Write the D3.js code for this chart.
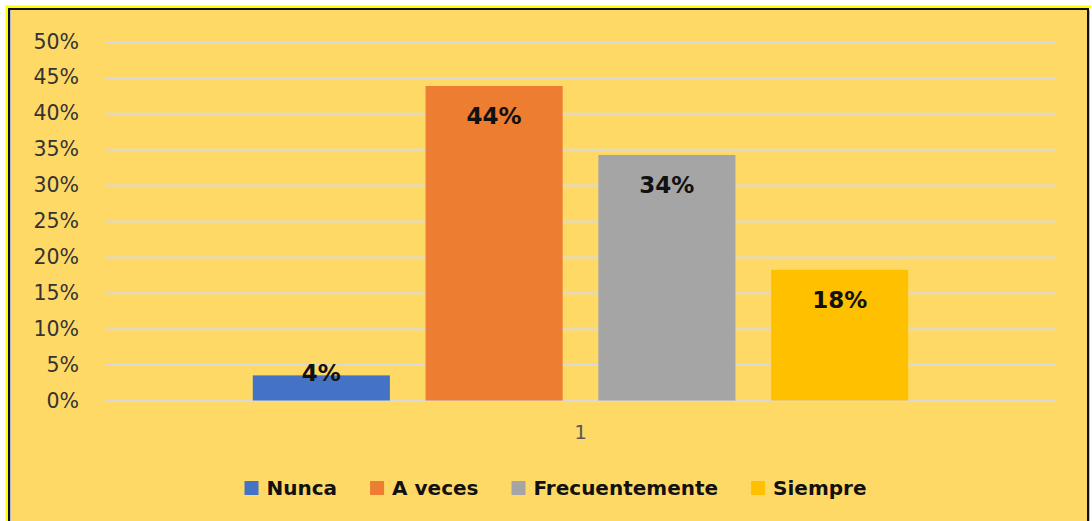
<!DOCTYPE html>
<html><head><meta charset="utf-8">
<script src="https://cdn.jsdelivr.net/npm/d3@7"></script>
<style>body{margin:0;background:#fff}svg{display:block}</style>
</head><body>
<svg id="c" width="1092" height="521"></svg>
<script>
const categories = ["1"];
const seriesNames = ["Nunca", "A veces", "Frecuentemente", "Siempre"];
const seriesValues = [0.035, 0.438, 0.342, 0.182];
const dataLabels = ["4%", "44%", "34%", "18%"];
const seriesColors = ["#4472C4", "#ED7D31", "#A5A5A5", "#FFC000"];
const yTicks = [0, 0.05, 0.10, 0.15, 0.20, 0.25, 0.30, 0.35, 0.40, 0.45, 0.50];

const svg = d3.select("#c");
const FONT = "'DejaVu Sans', Verdana, sans-serif";

// chart frame
svg.append("rect").attr("x",10).attr("y",10).attr("width",1077).attr("height",520).attr("fill","#FFD966");
svg.append("path").attr("d","M7,530 V7 H1091").attr("fill","none").attr("stroke","#FFFF00").attr("stroke-width",3);
svg.append("path").attr("d","M9,530 V9 H1088 V530").attr("fill","none").attr("stroke","#111").attr("stroke-width",2);
svg.append("line").attr("x1",10.5).attr("x2",10.5).attr("y1",10).attr("y2",530).attr("stroke","#bdbdbd").attr("stroke-width",1);
svg.append("line").attr("x1",1089.5).attr("x2",1089.5).attr("y1",10).attr("y2",530).attr("stroke","#bdbdbd").attr("stroke-width",1);

const x0 = d3.scaleBand().domain(categories).range([105,1056]).paddingInner(0.184).paddingOuter(0.184);
const x1 = d3.scaleBand().domain(seriesNames).range([0, x0.bandwidth()]).paddingInner(0.2066).paddingOuter(0);
const y = d3.scaleLinear().domain([0,0.5]).range([400.5,41.5]);

// gridlines
svg.append("g").attr("transform","translate(105,0)")
  .call(d3.axisLeft(y).tickValues(yTicks).tickSize(-951).tickFormat(""))
  .call(g=>g.select(".domain").remove())
  .call(g=>g.selectAll("line").attr("stroke","#D9D9D9").attr("stroke-width",2));

// y tick labels
svg.append("g").attr("transform","translate(105,0)")
  .call(d3.axisLeft(y).tickValues(yTicks).tickSize(0).tickPadding(26).tickFormat(d=>Math.round(d*100)+"%"))
  .call(g=>g.select(".domain").remove())
  .call(g=>g.selectAll("text").attr("font-family",FONT).attr("font-size",20.5).attr("fill","#333"));

// bars
const grp = svg.append("g").attr("transform",`translate(${x0("1")},0)`);
grp.selectAll("rect.bar").data(seriesValues).join("rect")
  .attr("x",(d,i)=>x1(seriesNames[i])).attr("width",x1.bandwidth())
  .attr("y",d=>y(d)).attr("height",d=>y(0)-y(d))
  .attr("fill",(d,i)=>seriesColors[i]);

grp.selectAll("text.lbl").data(seriesValues).join("text")
  .attr("x",(d,i)=>x1(seriesNames[i])+x1.bandwidth()/2)
  .attr("y",d=>{const h=y(0)-y(d); return h>50 ? y(d)+38 : y(d)+6;})
  .attr("text-anchor","middle").attr("font-family",FONT).attr("font-weight","bold")
  .attr("font-size",23).attr("fill","#111").text((d,i)=>dataLabels[i]);

// category axis label
svg.append("g").attr("transform","translate(0,400.5)")
  .call(d3.axisBottom(x0).tickSize(0).tickPadding(24))
  .call(g=>g.select(".domain").remove())
  .call(g=>g.selectAll("text").attr("font-family",FONT).attr("font-size",20).attr("fill","#595959"));

// legend
const leg = svg.append("g");
const items = leg.selectAll("g").data(seriesNames).join("g");
items.append("rect").attr("width",14).attr("height",14).attr("y",481).attr("fill",(d,i)=>seriesColors[i]);
items.append("text").attr("x",22).attr("y",495).attr("font-family",FONT).attr("font-weight","bold")
  .attr("font-size",20).attr("fill","#111").text(d=>d);
let cx = 0; const pos=[];
items.each(function(){ const w=d3.select(this).select("text").node().getComputedTextLength(); pos.push(cx); cx += 22+w+33; });
const total = cx-33, start = 555.5 - total/2;
items.attr("transform",(d,i)=>`translate(${start+pos[i]},0)`);
</script>
</body></html>
